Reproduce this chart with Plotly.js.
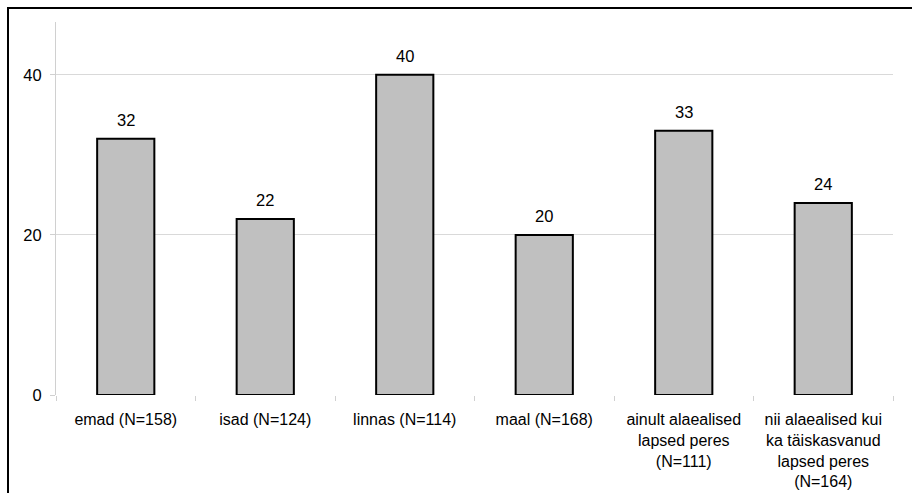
<!DOCTYPE html>
<html>
<head>
<meta charset="utf-8">
<script src="https://cdn.plot.ly/plotly-3.0.1.min.js"></script>
<style>html,body{margin:0;padding:0;background:#fff;}#chart{width:912px;height:493px;}</style>
</head>
<body>
<div id="chart"></div>
<script>
var categories = ["emad (N=158)", "isad (N=124)", "linnas (N=114)", "maal (N=168)",
  "ainult alaealised<br>lapsed peres<br>(N=111)",
  "nii alaealised kui<br>ka täiskasvanud<br>lapsed peres<br>(N=164)"];
var values = [32, 22, 40, 20, 33, 24];
var yTicks = [0, 20, 40];

var W = 912, H = 493;
var mL = 56, mR = 19, mT = 22, mB = 98;
var pw = W - mL - mR, ph = H - mT - mB;
function px(x){ return (x - mL) / pw; }
function py(y){ return (H - mB - y) / ph; }

var trace = {
  type: 'bar',
  x: categories,
  y: values,
  marker: {color: '#c0c0c0', line: {color: '#000000', width: 2}},
  hoverinfo: 'none'
};

var annotations = values.map(function(v, i){
  return {x: categories[i], y: v, xref: 'x', yref: 'y', text: String(v),
    showarrow: false, yanchor: 'bottom', yshift: 8,
    font: {family: 'Liberation Sans, Arial, sans-serif', size: 16.5, color: '#000'}};
});

var layout = {
  width: W, height: H,
  margin: {l: mL, r: mR, t: mT, b: mB, pad: 0},
  paper_bgcolor: '#fff', plot_bgcolor: '#fff',
  font: {family: 'Liberation Sans, Arial, sans-serif', size: 16.5, color: '#000'},
  showlegend: false,
  bargap: 0.59,
  xaxis: {
    type: 'category',
    showline: false,
    showgrid: false,
    ticks: 'outside', tickson: 'boundaries', ticklen: 5, tickcolor: '#d0d0d0', tickwidth: 1,
    ticklabelstandoff: 13,
    tickfont: {size: 16, color: '#000'},
    zeroline: false,
    automargin: false
  },
  yaxis: {
    range: [0, 46.6],
    tickvals: yTicks,
    ticktext: yTicks.map(String),
    showgrid: true, gridcolor: '#d9d9d9', gridwidth: 1,
    showline: true, linecolor: '#d0d0d0', linewidth: 1,
    ticks: 'outside', ticklen: 5, tickcolor: '#d0d0d0', tickwidth: 1,
    ticklabelstandoff: 5,
    zeroline: false,
    tickfont: {size: 16.5, color: '#000'},
    automargin: false
  },
  annotations: annotations,
  shapes: [{
    type: 'rect', xref: 'paper', yref: 'paper',
    x0: px(8), x1: px(930), y0: py(520), y1: py(8),
    line: {color: '#000', width: 2}, fillcolor: 'rgba(0,0,0,0)', layer: 'below'
  }]
};

Plotly.newPlot('chart', [trace], layout, {staticPlot: true, displayModeBar: false});
</script>
</body>
</html>
